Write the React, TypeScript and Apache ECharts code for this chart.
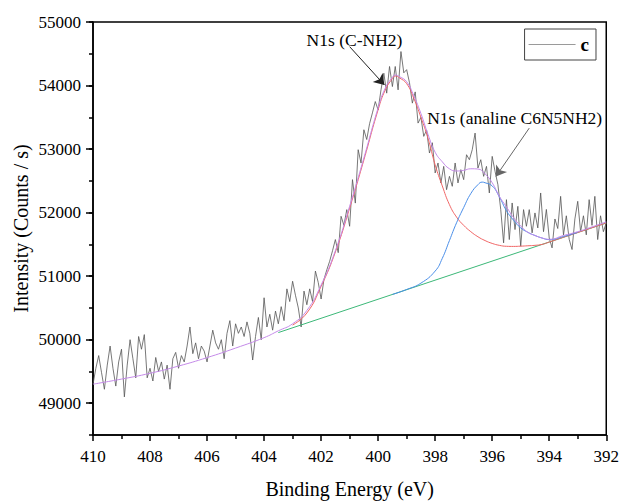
import React, { useEffect, useRef } from 'react';
import * as echarts from 'echarts';

// Raw spectrum "c": binding energy from 410.0 eV down to 392.0 eV, 0.1 eV step
const E_START = 410.0;
const E_STEP = 0.1;
const counts = [
  49300, 49550, 49750, 49480, 49220, 49600, 49900, 49550, 49270, 49650,
  49850, 49100, 49600, 50000, 49700, 49400, 50050, 49850, 50080, 49400,
  49550, 49350, 49720, 49500, 49650, 49380, 49600, 49220, 49700, 49800,
  49550, 49750, 49650, 49900, 50200, 49780, 49950, 49700, 49900, 49820,
  49650, 49900, 50150, 49950, 49850, 50000, 49700, 50100, 50300, 49900,
  50250, 50100, 50200, 50050, 50280, 50100, 49680, 50050, 50350, 50000,
  50660, 50200, 50400, 50150, 50450, 50250, 50520, 50300, 50800, 50600,
  50920, 50700, 50500, 50200, 50765, 50550, 50800, 50600, 51080, 50900,
  50640, 50950, 51100, 51235, 51400, 51576, 51370, 51942, 51800, 52047,
  51785, 52519, 52150, 52990, 52780, 53304, 53150, 53400, 53570, 53748,
  53617, 53932, 54194, 53880, 54300, 53984, 54300, 53932, 54535, 54200,
  54250, 54043, 53723, 53900, 53409, 53500, 53200, 53300, 52938, 53100,
  52624, 52781, 52467, 52728, 52361, 52571, 52414, 52781, 52467, 52676,
  52519, 52911, 52833, 52990, 53252, 52702, 52833, 52571, 52728, 52309,
  52885, 52650, 52440, 52047, 51524, 52204, 51576, 52152, 51733, 52099,
  51471, 52047, 51785, 52047, 51681, 51995, 51759, 52309, 51700, 52050,
  51600, 51445, 51900, 51750, 52256, 51650, 51950, 51580, 51419, 51900,
  52178, 51700, 51950, 51650, 52204, 51800, 52256, 51576, 51950, 51700,
  51838,
];

// Envelope (purple)
const envE = [410, 409, 408, 407, 406, 405, 404, 403.5, 403, 402.5, 402, 401.5, 401, 400.5, 400, 399.75, 399.5, 399.4, 399.25, 399, 398.75, 398.5, 398.25, 398, 397.75, 397.5, 397.25, 397, 396.75, 396.5, 396.25, 396, 395.75, 395.5, 395.25, 395, 394.75, 394.5, 394.25, 394, 393.5, 393, 392.5, 392];
const envI = [49300, 49380, 49471, 49585, 49718, 49868, 50032, 50140, 50250, 50460, 50860, 51400, 52100, 52860, 53650, 53960, 54130, 54165, 54140, 54060, 53840, 53560, 53230, 52950, 52800, 52690, 52655, 52665, 52690, 52686, 52610, 52470, 52256, 52090, 51920, 51790, 51690, 51640, 51600, 51580, 51640, 51700, 51775, 51855];

// Peak 1: N1s (C-NH2) (red)
const p1E = [403, 402.5, 402, 401.5, 401, 400.5, 400, 399.75, 399.5, 399.4, 399.25, 399, 398.75, 398.5, 398.25, 398, 397.75, 397.5, 397.25, 397, 396.75, 396.5, 396.25, 396, 395.75, 395.5, 395.25, 395, 394.75, 394.5, 394.25, 394, 393, 392];
const p1I = [50230, 50420, 50840, 51380, 52070, 52830, 53620, 53930, 54110, 54150, 54120, 54030, 53800, 53500, 53170, 52750, 52420, 52126, 51930, 51800, 51700, 51620, 51560, 51515, 51485, 51470, 51468, 51472, 51478, 51485, 51500, 51537, 51687, 51837];

// Peak 2: N1s (analine C6N5NH2) (blue)
const p2E = [399.5, 399, 398.5, 398, 397.75, 397.5, 397.25, 397, 396.75, 396.5, 396.35, 396.25, 396, 395.75, 395.5, 395.25, 395, 394.75, 394.5, 394.25, 394, 393.5, 393];
const p2I = [50712, 50790, 50890, 51080, 51280, 51560, 51840, 52080, 52300, 52440, 52480, 52470, 52420, 52250, 52030, 51880, 51760, 51690, 51640, 51600, 51575, 51625, 51690];

// Background (green)
const bgE = [403.5, 392];
const bgI = [50112, 51837];

const yLabelValues = [49000, 50000, 51000, 52000, 53000, 54000, 55000];

const pairs = (xs: number[], ys: number[]) => xs.map((x, i) => [x, ys[i]]);

const FONT = 'Liberation Serif';

export default function App() {
  const ref = useRef<HTMLDivElement>(null);
  useEffect(() => {
    if (!ref.current) return;
    const chart = echarts.init(ref.current, null, { renderer: 'svg' });
    const raw = counts.map((v, i) => [+(E_START - i * E_STEP).toFixed(2), v]);
    chart.setOption({
      animation: false,
      backgroundColor: '#fff',
      textStyle: { fontFamily: FONT },
      grid: { left: 93, right: 15, top: 22, bottom: 68, show: true, borderColor: '#000', borderWidth: 1.5 },
      legend: {
        data: [{ name: 'c', icon: 'rect', itemStyle: { color: '#9a9a9a' } }],
        right: 26,
        top: 29,
        padding: [6, 7, 6, 4],
        itemWidth: 47,
        itemHeight: 1,
        itemGap: 0,
        borderColor: '#444',
        borderWidth: 1,
        borderRadius: 0,
        textStyle: { fontFamily: FONT, fontSize: 19, fontWeight: 'bold', color: '#000' },
      },
      xAxis: {
        type: 'value',
        min: 392,
        max: 410,
        interval: 2,
        inverse: true,
        axisLine: { lineStyle: { color: '#000', width: 1.5 } },
        axisTick: { length: 6, lineStyle: { color: '#000', width: 1.5 } },
        minorTick: { show: true, splitNumber: 2, length: 4, lineStyle: { color: '#000', width: 1.5 } },
        splitLine: { show: false },
        axisLabel: { fontFamily: FONT, fontSize: 17, color: '#000', margin: 13, formatter: (v: number) => String(v) },
        name: 'Binding Energy (eV)',
        nameLocation: 'middle',
        nameGap: 44,
        nameTextStyle: { fontFamily: FONT, fontSize: 20, color: '#000' },
      },
      yAxis: [
        {
          type: 'value',
          min: 48500,
          max: 55000,
          interval: 500,
          axisLine: { show: true, lineStyle: { color: '#000', width: 1.5 } },
          axisTick: { show: true, length: 4, lineStyle: { color: '#000', width: 1.5 } },
          axisLabel: { show: false },
          splitLine: { show: false },
          name: 'Intensity (Counts / s)',
          nameLocation: 'middle',
          nameGap: 62,
          nameTextStyle: { fontFamily: FONT, fontSize: 20, color: '#000' },
        },
        {
          type: 'value',
          min: 48500,
          max: 55000,
          position: 'left',
          axisLine: { show: false },
          axisTick: { show: true, customValues: yLabelValues, length: 7, lineStyle: { color: '#000', width: 1.5 } },
          axisLabel: { customValues: yLabelValues, fontFamily: FONT, fontSize: 17, color: '#000', margin: 12, formatter: (v: number) => String(v) },
          splitLine: { show: false },
        },
      ],
      series: [
        {
          name: 'c',
          type: 'line',
          data: raw,
          showSymbol: false,
          symbol: 'none',
          lineStyle: { color: '#555555', width: 0.8 },
          itemStyle: { color: '#9a9a9a' },
          z: 2,
          markPoint: {
            symbol: 'circle',
            symbolSize: 0,
            silent: true,
            label: { show: true, position: 'inside', fontFamily: FONT, fontSize: 17.5, color: '#000' },
            data: [
              { coord: [400.83, 54717], label: { formatter: 'N1s (C-NH2)' } },
              { coord: [395.21, 53492], label: { formatter: 'N1s (analine C6N5NH2)' } },
            ],
          },
          markLine: {
            silent: true,
            symbol: ['none', 'arrow'],
            symbolSize: 10,
            label: { show: false },
            lineStyle: { color: '#222', width: 1, type: 'solid' },
            data: [
              [{ coord: [401.0, 54612] }, { coord: [399.78, 54010] }],
              [{ coord: [394.7, 53330], lineStyle: { color: '#666', width: 1, type: 'solid' } }, { coord: [395.87, 52570] }],
            ],
          },
        },
        {
          name: 'bg',
          type: 'line',
          data: pairs(bgE, bgI),
          showSymbol: false,
          symbol: 'none',
          lineStyle: { color: '#3cb878', width: 1 },
          z: 3,
        },
        {
          name: 'p1',
          type: 'line',
          data: pairs(p1E, p1I),
          showSymbol: false,
          symbol: 'none',
          smooth: true,
          lineStyle: { color: '#f06666', width: 1 },
          z: 4,
        },
        {
          name: 'p2',
          type: 'line',
          data: pairs(p2E, p2I),
          showSymbol: false,
          symbol: 'none',
          smooth: true,
          lineStyle: { color: '#4a8ee8', width: 1 },
          z: 5,
        },
        {
          name: 'env',
          type: 'line',
          data: pairs(envE, envI),
          showSymbol: false,
          symbol: 'none',
          smooth: true,
          lineStyle: { color: '#c48ae8', width: 1 },
          z: 6,
        },
      ],
    });
    return () => chart.dispose();
  }, []);
  return <div ref={ref} style={{ position: 'absolute', left: 0, top: 0, width: 622, height: 504 }} />;
}
